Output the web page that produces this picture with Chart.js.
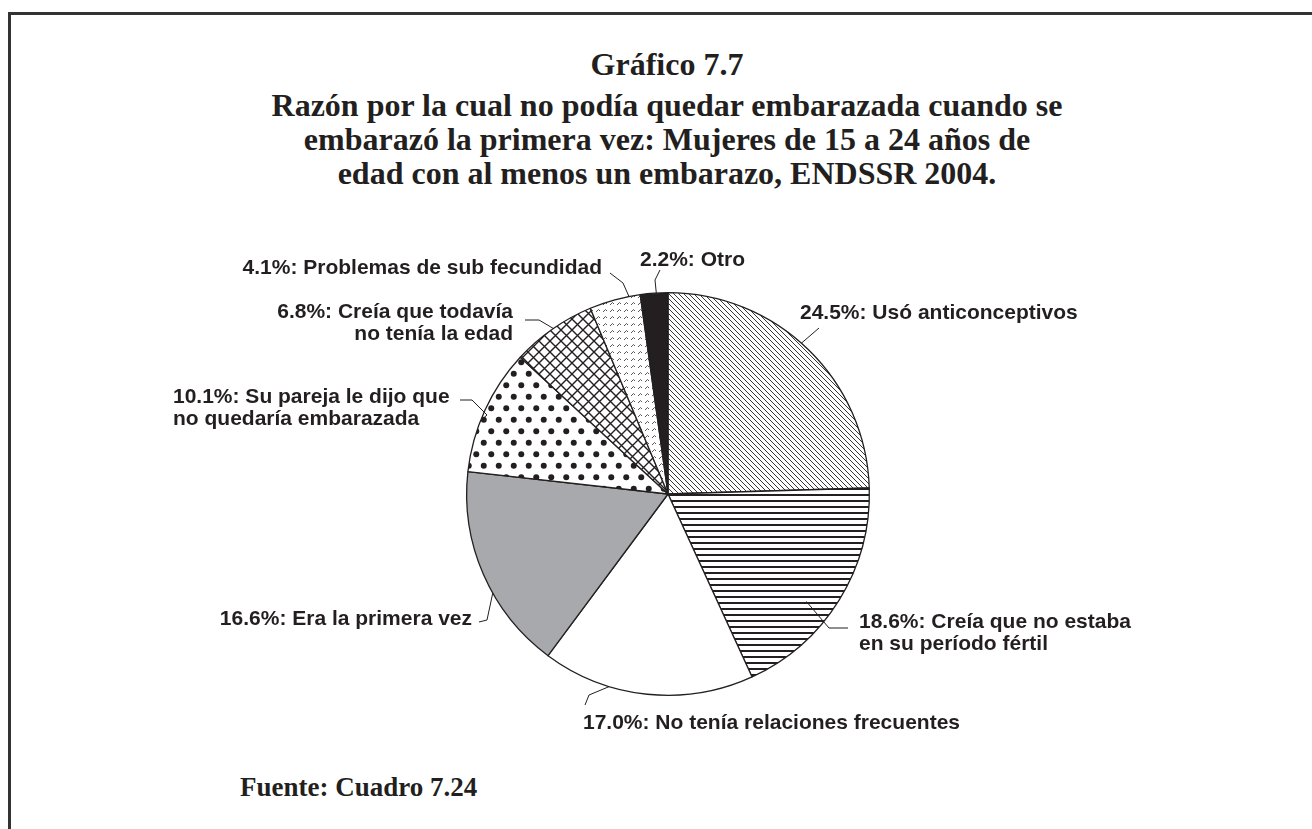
<!DOCTYPE html>
<html>
<head>
<meta charset="utf-8">
<script src="https://cdn.jsdelivr.net/npm/chart.js@4.4.1/dist/chart.umd.min.js"></script>
<style>
  html, body { margin: 0; padding: 0; background: #ffffff; }
  body { width: 1312px; height: 829px; position: relative; overflow: hidden; }
  #frameTop { position: absolute; left: 8px; top: 12px; width: 1304px; height: 3px; background: #333333; }
  #frameLeft { position: absolute; left: 8px; top: 12px; width: 3px; height: 817px; background: #333333; }
  .serif { font-family: "Liberation Serif", "Times New Roman", serif; font-weight: bold; color: #231f20; position: absolute; }
  #t1 { left: 0; width: 1334px; top: 47px; font-size: 32px; line-height: 34px; text-align: center; }
  #t2 { left: 0; width: 1334px; top: 88px; font-size: 32px; line-height: 34px; text-align: center; }
  #src { left: 240px; top: 772px; font-size: 27px; line-height: 30px; }
  #c { position: absolute; left: 0; top: 0; }
</style>
</head>
<body>
<div id="frameTop"></div>
<div id="frameLeft"></div>
<div id="t1" class="serif">Gráfico 7.7</div>
<div id="t2" class="serif">Razón por la cual no podía quedar embarazada cuando se<br>embarazó la primera vez: Mujeres de 15 a 24 años de<br>edad con al menos un embarazo, ENDSSR 2004.</div>
<div id="src" class="serif">Fuente: Cuadro 7.24</div>
<canvas id="c" width="1312" height="829"></canvas>
<script>
// ---- data ----
const categories = [
  "Usó anticonceptivos",
  "Creía que no estaba en su período fértil",
  "No tenía relaciones frecuentes",
  "Era la primera vez",
  "Su pareja le dijo que no quedaría embarazada",
  "Creía que todavía no tenía la edad",
  "Problemas de sub fecundidad",
  "Otro"
];
const percentages = [24.5, 18.6, 17.0, 16.6, 10.1, 6.8, 4.1, 2.2];
const labelLines = [
  ["Usó anticonceptivos"],
  ["Creía que no estaba", "en su período fértil"],
  ["No tenía relaciones frecuentes"],
  ["Era la primera vez"],
  ["Su pareja le dijo que", "no quedaría embarazada"],
  ["Creía que todavía", "no tenía la edad"],
  ["Problemas de sub fecundidad"],
  ["Otro"]
];

// ---- styles / label layout (offsets from pie centre) ----
const INK = "#231f20";
const labelLayout = [
  { t: 0.47, r0: 1.0,  path: [[151, -166]],                   tx: 132,  ty: -181, align: "left"  },
  { t: 0.59, r0: 0.87, path: [[161, 134], [180, 134]],        tx: 191,  ty: 128,  align: "left"  },
  { t: 0.68, r0: 1.0,  path: [[-79, 201], [-83, 211]],        tx: -85,  ty: 229,  align: "left"  },
  { t: 0.40, r0: 1.0,  path: [[-181, 126], [-189, 128]],      tx: -196, ty: 125,  align: "right" },
  { t: 0.41, r0: 1.0,  path: [[-181, -79], [-196, -94], [-208, -94]], tx: -495, ty: -97, align: "left" },
  { t: 0.51, r0: 1.0,  path: [[-129, -174], [-143, -174]],    tx: -155, ty: -182, align: "right" },
  { t: 0.78, r0: 1.0,  path: [[-45, -211], [-58, -221]],      tx: -66,  ty: -226, align: "right" },
  { t: 0.58, r0: 1.0,  path: [[-13, -214], [-8, -224]],       tx: -28,  ty: -234, align: "left"  }
];

function tile(w, h, draw) {
  const c = document.createElement("canvas");
  c.width = w; c.height = h;
  const g = c.getContext("2d");
  g.fillStyle = "#ffffff"; g.fillRect(0, 0, w, h);
  draw(g, w, h);
  return document.createElement("canvas").getContext("2d").createPattern(c, "repeat");
}
const patDiag = tile(5, 5, (g, s) => {
  g.strokeStyle = INK; g.lineWidth = 0.9;
  g.beginPath();
  g.moveTo(-1, -1); g.lineTo(s + 1, s + 1);
  g.moveTo(s - 1, -1); g.lineTo(s + 1, 1);
  g.moveTo(-1, s - 1); g.lineTo(1, s + 1);
  g.stroke();
});
const patHoriz = tile(8, 6, (g, w) => { g.fillStyle = INK; g.fillRect(0, 2, w, 2); });
const patDots = tile(15, 23, (g) => {
  g.fillStyle = INK;
  [[3.75, 5.75], [11.25, 17.25]].forEach(p => { g.beginPath(); g.arc(p[0], p[1], 3.0, 0, Math.PI * 2); g.fill(); });
});
const patCross = tile(11, 11, (g, s) => {
  g.strokeStyle = INK; g.lineWidth = 1.4;
  g.beginPath();
  g.moveTo(-1, -1); g.lineTo(s + 1, s + 1);
  g.moveTo(s + 1, -1); g.lineTo(-1, s + 1);
  g.stroke();
});
const patDash = tile(7, 7, (g) => {
  g.strokeStyle = "#444"; g.lineWidth = 0.9;
  g.beginPath();
  g.moveTo(1, 4); g.lineTo(3.5, 1.5); g.lineTo(5, 3);
  g.stroke();
});
const fills = [patDiag, patHoriz, "#ffffff", "#a7a9ac", patDots, patCross, patDash, INK];

const labelPlugin = {
  id: "leaderLabels",
  afterDatasetsDraw(chart) {
    const ctx = chart.ctx;
    const meta = chart.getDatasetMeta(0);
    ctx.save();
    ctx.font = "bold 21px 'Liberation Sans', Arial, sans-serif";
    ctx.fillStyle = INK; ctx.strokeStyle = INK; ctx.lineWidth = 1;
    ctx.textBaseline = "middle";
    meta.data.forEach((arc, i) => {
      const p = arc.getProps(["x", "y", "startAngle", "endAngle", "outerRadius"], true);
      const L = labelLayout[i];
      const a = p.startAngle + L.t * (p.endAngle - p.startAngle);
      const x0 = p.x + Math.cos(a) * p.outerRadius * L.r0;
      const y0 = p.y + Math.sin(a) * p.outerRadius * L.r0;
      ctx.beginPath();
      ctx.moveTo(x0, y0);
      L.path.forEach(q => ctx.lineTo(p.x + q[0], p.y + q[1]));
      ctx.stroke();
      ctx.textAlign = L.align;
      const lines = labelLines[i].slice();
      lines[0] = percentages[i].toFixed(1) + "%: " + lines[0];
      lines.forEach((s, k) => ctx.fillText(s, p.x + L.tx, p.y + L.ty + k * 22));
    });
    ctx.restore();
  }
};

new Chart(document.getElementById("c"), {
  type: "pie",
  data: {
    labels: categories,
    datasets: [{
      data: percentages,
      backgroundColor: fills,
      borderColor: INK,
      borderWidth: 1.3
    }]
  },
  options: {
    responsive: false,
    animation: false,
    layout: { padding: { top: 292, bottom: 133, left: 124, right: 100 } },
    plugins: { legend: { display: false }, tooltip: { enabled: false }, title: { display: false } }
  },
  plugins: [labelPlugin]
});
</script>
</body>
</html>
